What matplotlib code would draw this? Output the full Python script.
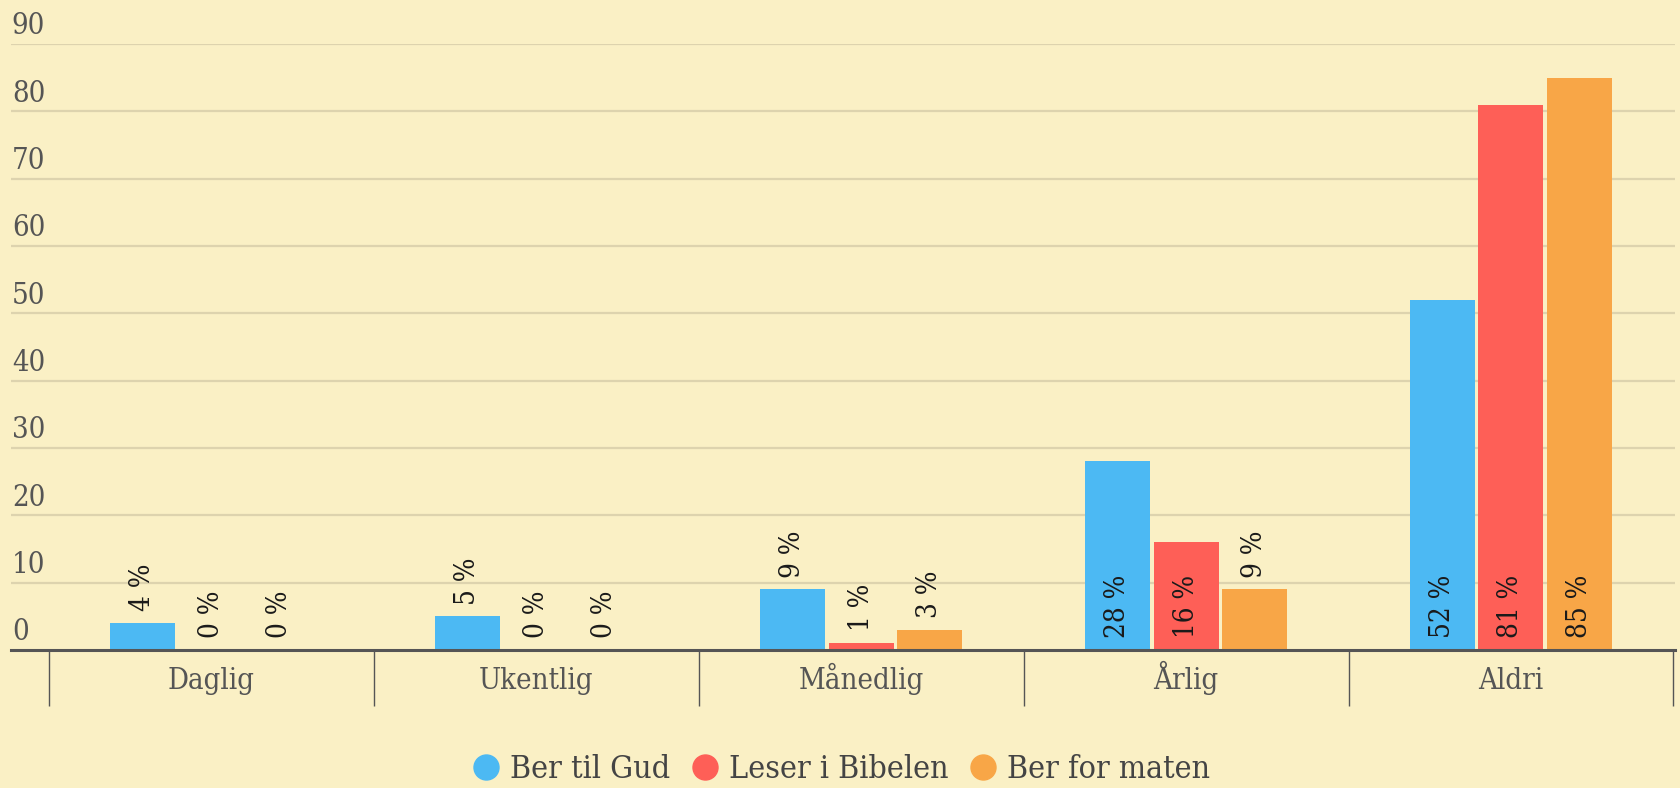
import numpy as np
import matplotlib
matplotlib.use("Agg")
import matplotlib.pyplot as plt
import matplotlib.transforms as mtransforms
from matplotlib.lines import Line2D

# data
categories = ["Daglig", "Ukentlig", "Månedlig", "Årlig", "Aldri"]
series_names = ["Ber til Gud", "Leser i Bibelen", "Ber for maten"]
ber_til_gud = [4, 5, 9, 28, 52]
leser_bibelen = [0, 0, 1, 16, 81]
ber_for_maten = [0, 0, 3, 9, 85]
y_ticks = [0, 10, 20, 30, 40, 50, 60, 70, 80, 90]

colors = ["#4CB9F3", "#FE5F57", "#F8A647"]
bg = "#FAF0C5"
grid_col = "#DDD3AE"
text_col = "#555555"

plt.rcParams['font.family'] = ['DejaVu Serif']
plt.rcParams['font.stretch'] = 'condensed'

fig = plt.figure(figsize=(16.8, 7.88), dpi=100, facecolor=bg)
ax = fig.add_axes([11 / 1680, 1 - 650 / 788, 1664 / 1680, 606 / 788])
ax.set_facecolor(bg)

x = np.arange(len(categories))
step = 0.211
width = 0.2
all_series = [ber_til_gud, leser_bibelen, ber_for_maten]

for i, vals in enumerate(all_series):
    pos = x + (i - 1) * step
    ax.bar(pos, vals, width=width, color=colors[i], zorder=3, label=series_names[i])
    for px_, v in zip(pos, vals):
        # big bars get the label inside at the base, small ones above the bar
        y0 = 0 if v >= 10 else v
        ax.annotate(f"{v} %", (px_, y0), xytext=(0, 8.5), textcoords="offset points",
                    rotation=90, ha="center", va="bottom", fontsize=20,
                    color="#1a1a1a", zorder=4)

ax.set_ylim(0, 90)
ax.set_xlim(-0.617, 4.505)

# grid lines + y labels sitting above them
for t in y_ticks[1:]:
    ax.axhline(t, color=grid_col, lw=1.6, zorder=1)
trans = mtransforms.blended_transform_factory(ax.transAxes, ax.transData)
for t in y_ticks:
    ax.annotate(str(t), (0.0005, t), xycoords=trans, xytext=(0, 7), textcoords="offset points",
                ha="left", va="baseline", fontsize=21, color=text_col)

for s in ["top", "right", "left"]:
    ax.spines[s].set_visible(False)
ax.spines["bottom"].set_color("#555555")
ax.spines["bottom"].set_linewidth(2.2)
ax.spines["bottom"].set_zorder(5)

ax.set_yticks([])
ax.set_xticks(x)
ax.set_xticklabels([])
ax.tick_params(axis="x", which="major", length=0)
# category names on a common baseline
xtrans = mtransforms.blended_transform_factory(ax.transData, ax.transAxes)
for xi, name in zip(x, categories):
    ax.annotate(name, (xi, 0), xycoords=xtrans, xytext=(0, -28), textcoords="offset points",
                ha="center", va="baseline", fontsize=21, color=text_col, annotation_clip=False)
ax.set_xticks(np.arange(len(categories) + 1) - 0.5, minor=True)
ax.tick_params(axis="x", which="minor", length=40, width=1, color="#555555", direction="out")

handles = [Line2D([0], [0], marker="o", ls="", markersize=18, markerfacecolor=c,
                  markeredgecolor=c) for c in colors]
leg = fig.legend(handles, series_names, loc="center", bbox_to_anchor=(0.5, 1 - 770 / 788),
                 ncol=3, frameon=False, fontsize=23, handletextpad=0.25, columnspacing=0.6,
                 handlelength=1.0)
for t in leg.get_texts():
    t.set_color("#444444")

fig.savefig("out.png", dpi=100, facecolor=bg)
